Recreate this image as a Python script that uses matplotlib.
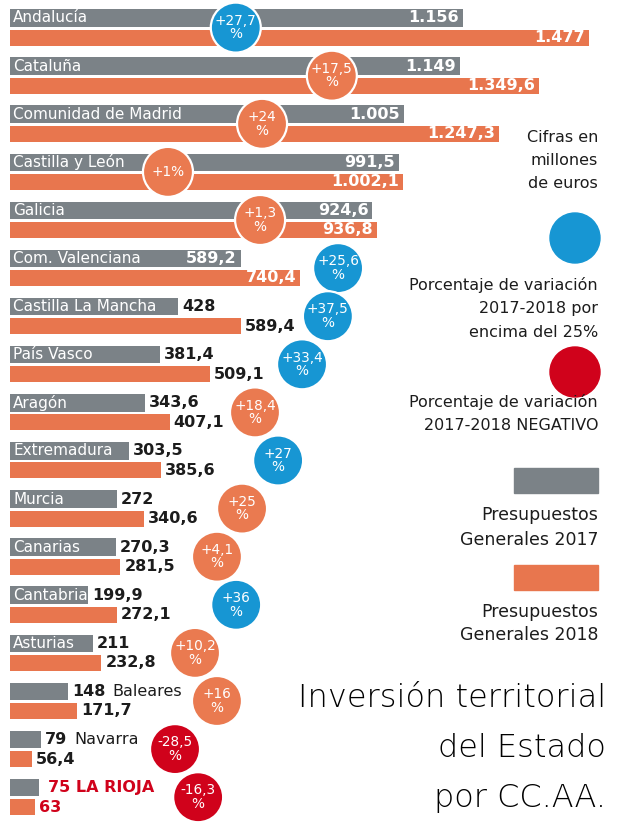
import matplotlib
matplotlib.use("Agg")
import matplotlib.pyplot as plt
from matplotlib.patches import Circle, Rectangle
import numpy as np

# ---------------- data ----------------
regions = ["Andalucía", "Cataluña", "Comunidad de Madrid", "Castilla y León",
           "Galicia", "Com. Valenciana", "Castilla La Mancha", "País Vasco",
           "Aragón", "Extremadura", "Murcia", "Canarias", "Cantabria",
           "Asturias", "Baleares", "Navarra", "LA RIOJA"]
pge_2017 = [1156, 1149, 1005, 991.5, 924.6, 589.2, 428, 381.4, 343.6, 303.5,
            272, 270.3, 199.9, 211, 148, 79, 75]
pge_2018 = [1477, 1349.6, 1247.3, 1002.1, 936.8, 740.4, 589.4, 509.1, 407.1,
            385.6, 340.6, 281.5, 272.1, 232.8, 171.7, 56.4, 63]
variation = [27.7, 17.5, 24, 1, 1.3, 25.6, 37.5, 33.4, 18.4, 27, 25, 4.1, 36,
             10.2, 16, -28.5, -16.3]

# ---------------- layout (badge centres, in the value scale) ----------------
badge_x = [576, 821, 643, 403, 638, 837, 811, 745, 625, 684, 592, 528, 577,
           472, 528, 421, 480]

GRAY = "#7b8287"
ORANGE = "#e8764e"
ORANGE_C = "#ea7a50"
BLUE = "#1796d3"
RED = "#d0021b"
DARK = "#1c1c1c"

W, H = 624, 836
fig = plt.figure(figsize=(W / 100, H / 100), dpi=100)
fig.patch.set_facecolor("white")

px_per_unit = 0.392
left_px = 10
pitch = 48.1
top_px = 18

ax = fig.add_axes([0, 0, 1, 1])
ax.set_xlim(-left_px / px_per_unit, (W - left_px) / px_per_unit)
ax.set_ylim((H - top_px) / pitch, -top_px / pitch)
ax.axis("off")


def fmt(v):
    if float(v).is_integer():
        s = f"{int(v):,}".replace(",", ".")
    else:
        s = f"{v:,.1f}".replace(",", "X").replace(".", ",").replace("X", ".")
    return s


rows = np.arange(len(regions))
off18 = 19.5 / pitch
ax.barh(rows, pge_2017, height=17.5 / pitch, color=GRAY, zorder=1)
ax.barh(rows + off18, pge_2018, height=16 / pitch, color=ORANGE, zorder=1)

FS = 11.5
NFS = 11
for i, name in enumerate(regions):
    v17, v18 = pge_2017[i], pge_2018[i]
    name_inside = v17 >= 190
    vals_inside = v17 > 500
    if name_inside:
        ax.annotate(name, xy=(0, i), xytext=(2.2, 0), textcoords="offset points",
                    ha="left", va="center", color="white", fontsize=NFS, zorder=2)
    if vals_inside:
        ax.annotate(fmt(v17), xy=(v17, i), xytext=(-3, 0), textcoords="offset points",
                    ha="right", va="center", color="white", fontsize=FS,
                    fontweight="bold", zorder=2)
        ax.annotate(fmt(v18), xy=(v18, i + off18), xytext=(-3, 0),
                    textcoords="offset points", ha="right", va="center",
                    color="white", fontsize=FS, fontweight="bold", zorder=2)
    else:
        col = RED if name == "LA RIOJA" else DARK
        if name_inside:
            ax.annotate(fmt(v17), xy=(v17, i), xytext=(3, 0), textcoords="offset points",
                        ha="left", va="center", color=col, fontsize=FS,
                        fontweight="bold", zorder=2)
        elif name == "LA RIOJA":
            ax.annotate(fmt(v17) + " " + name, xy=(v17, i), xytext=(6, 0),
                        textcoords="offset points", ha="left", va="center",
                        color=col, fontsize=FS, fontweight="bold", zorder=2)
        else:
            t = ax.annotate(fmt(v17), xy=(v17, i), xytext=(3, 0),
                            textcoords="offset points", ha="left", va="center",
                            color=col, fontsize=FS, fontweight="bold", zorder=2)
            ax.annotate(name, xy=(1, 0.5), xycoords=t, xytext=(5, 0),
                        textcoords="offset points", ha="left", va="center",
                        color=col, fontsize=FS, zorder=2)
        ax.annotate(fmt(v18), xy=(v18, i + off18), xytext=(3, 0),
                    textcoords="offset points", ha="left", va="center",
                    color=col, fontsize=FS, fontweight="bold", zorder=2)

# badges
badge_y = rows + 9.6 / pitch
badge_cols = [RED if p < 0 else (BLUE if p > 25 else ORANGE_C) for p in variation]
ax.scatter(badge_x, badge_y, s=36 ** 2, c=badge_cols, edgecolors="white",
           linewidths=1.6, zorder=3)
for i, p in enumerate(variation):
    s = ("+" if p > 0 else "-") + fmt(abs(p))
    lab = s + "%" if abs(p) == 1 else s + "\n%"
    ax.text(badge_x[i], badge_y[i], lab, ha="center", va="center", color="white",
            fontsize=9.8, linespacing=0.95, zorder=4)

# ---------------- legend & title (pixel overlay) ----------------
ax2 = fig.add_axes([0, 0, 1, 1], facecolor="none")
ax2.set_xlim(0, W)
ax2.set_ylim(H, 0)
ax2.axis("off")

RX = 598
for y, t in [(142, "Cifras en"), (165, "millones"), (188, "de euros")]:
    ax2.text(RX, y, t, ha="right", va="baseline", fontsize=11.5, color=DARK)
ax2.add_patch(Circle((575, 238), 25, color=BLUE))
for y, t in [(290, "Porcentaje de variación"), (313, "2017-2018 por"),
             (337, "encima del 25%")]:
    ax2.text(RX, y, t, ha="right", va="baseline", fontsize=11.5, color=DARK)
ax2.add_patch(Circle((575, 372), 25, color=RED))
for y, t in [(407, "Porcentaje de variación"), (430, "2017-2018 NEGATIVO")]:
    ax2.text(RX, y, t, ha="right", va="baseline", fontsize=11.5, color=DARK)
ax2.add_patch(Rectangle((514, 468), 84, 25, color=GRAY))
for y, t in [(520, "Presupuestos"), (545, "Generales 2017")]:
    ax2.text(RX, y, t, ha="right", va="baseline", fontsize=12.5, color=DARK)
ax2.add_patch(Rectangle((514, 565), 84, 25, color=ORANGE))
for y, t in [(617, "Presupuestos"), (640, "Generales 2018")]:
    ax2.text(RX, y, t, ha="right", va="baseline", fontsize=12.5, color=DARK)

for y, t in [(707, "Inversión territorial"), (757, "del Estado"), (807, "por CC.AA.")]:
    ax2.text(606, y, t, ha="right", va="baseline", fontsize=23, color="black",
             fontweight="light")

fig.savefig("out.png", dpi=100, facecolor="white")
